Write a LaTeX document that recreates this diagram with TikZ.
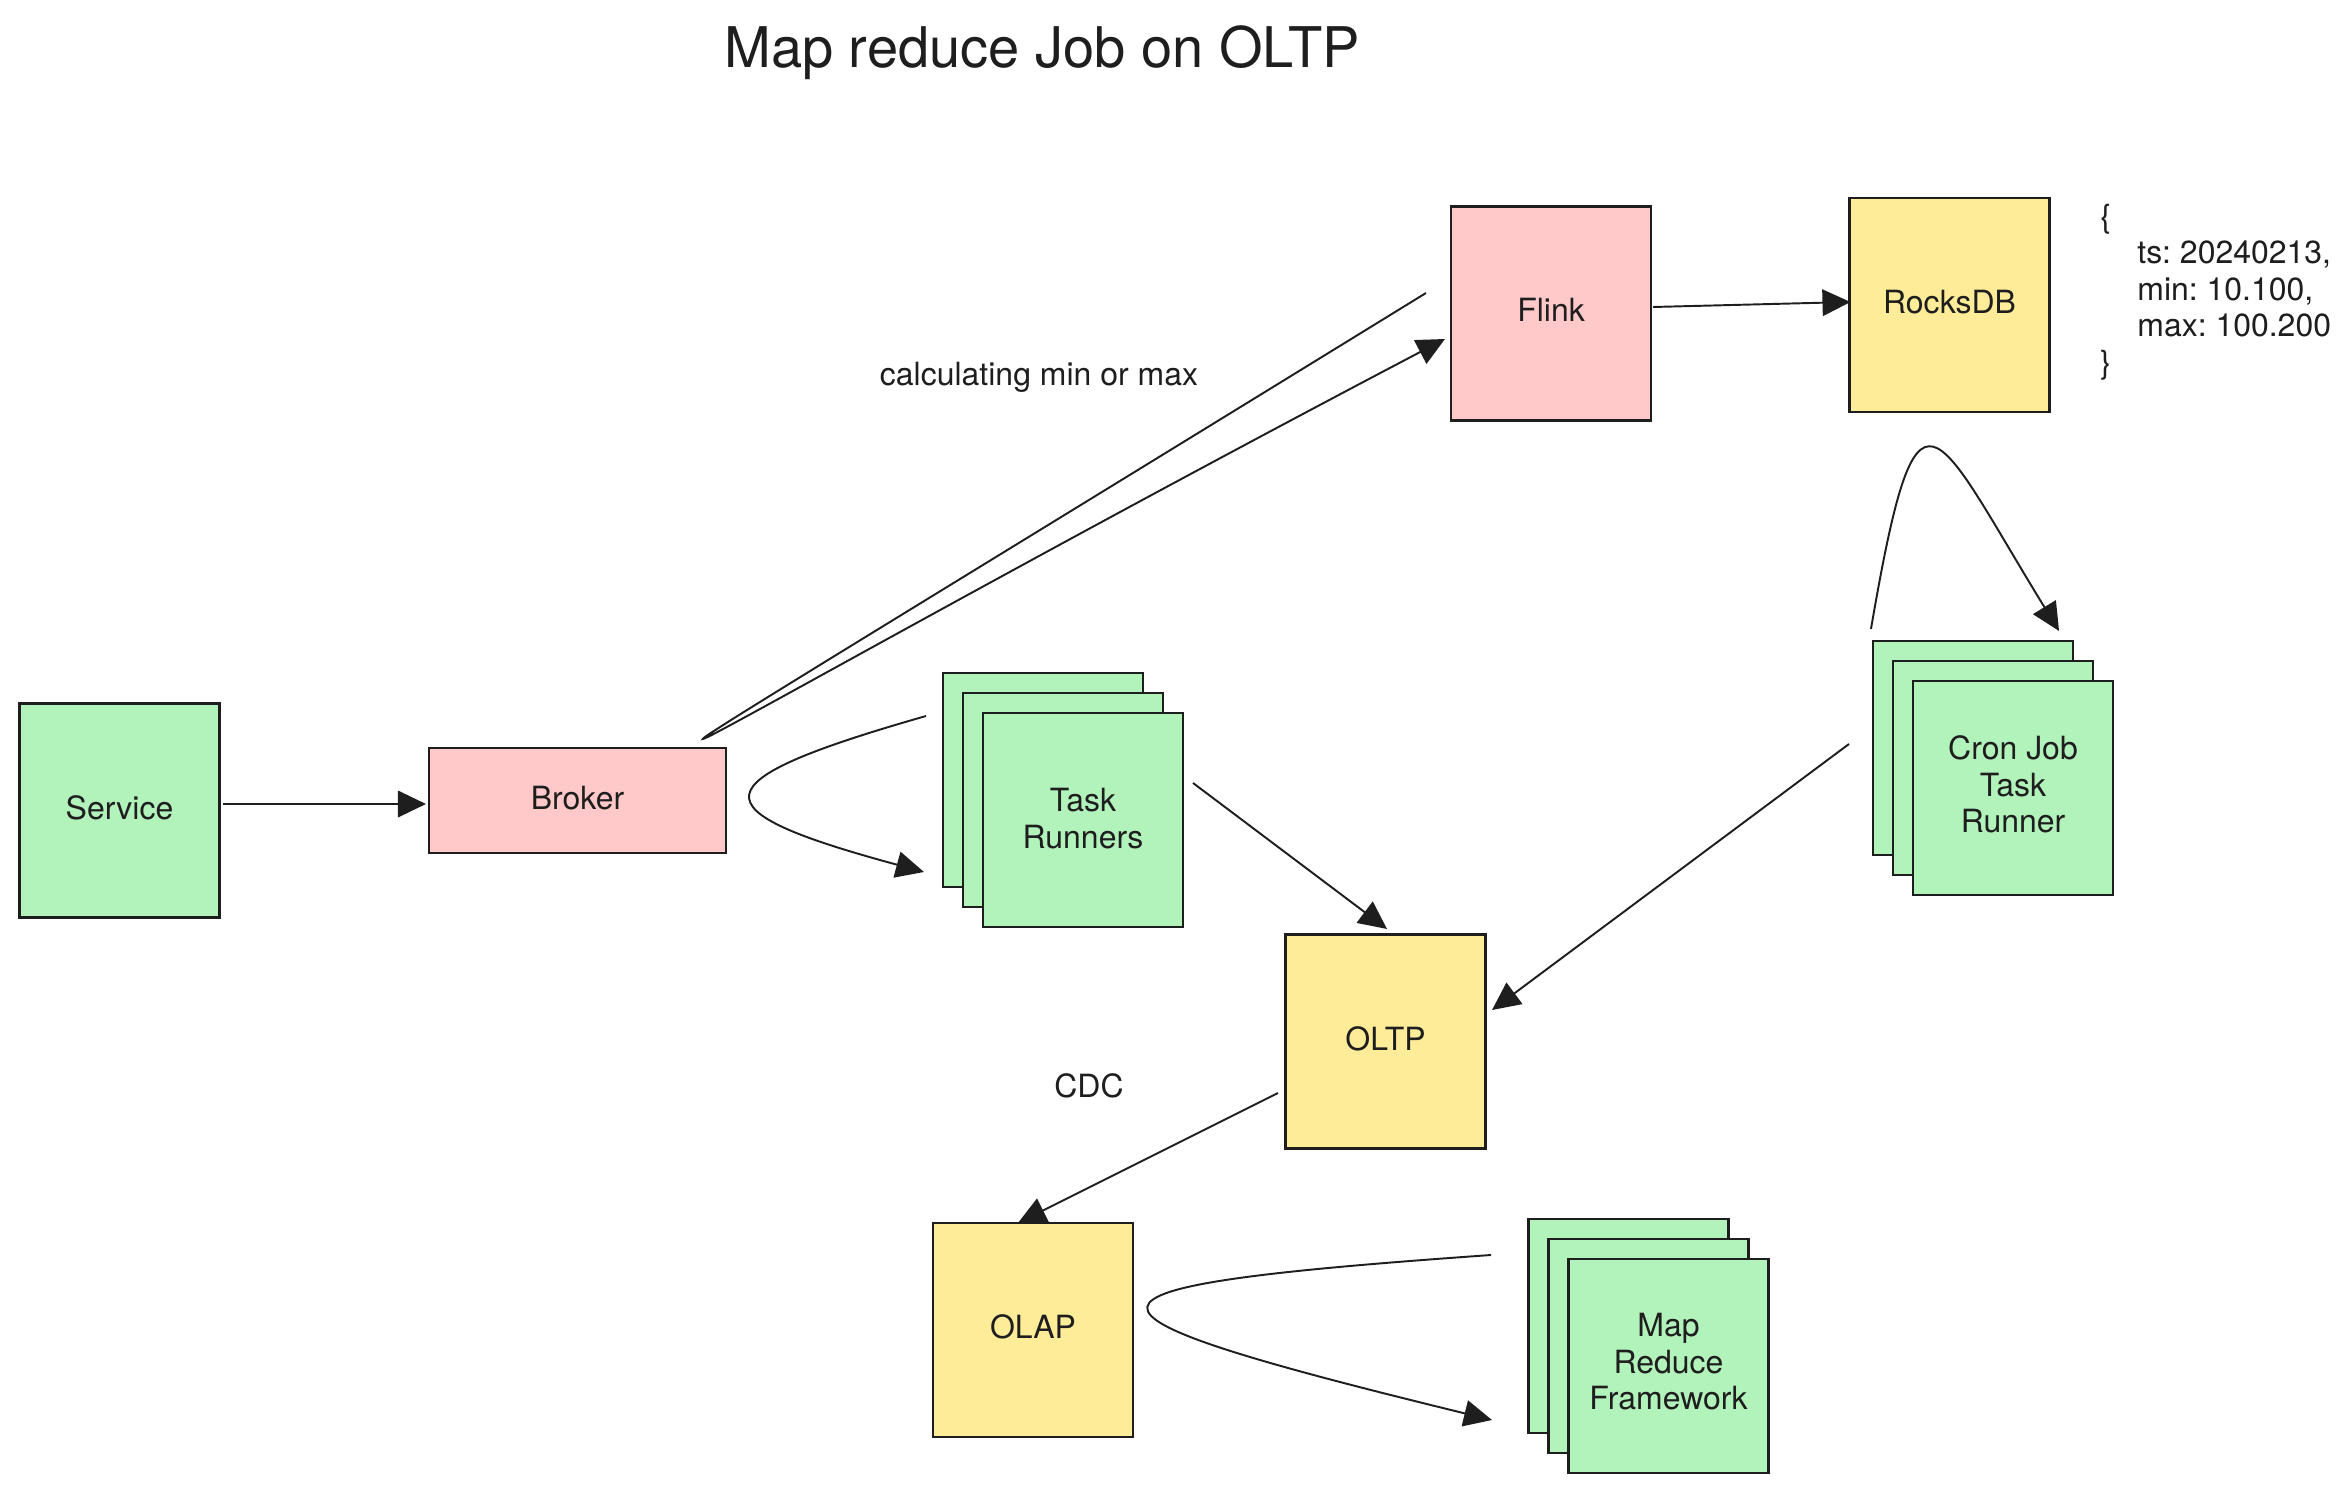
\documentclass[tikz,border=0pt]{standalone}
\usepackage{fontspec}
\setmainfont{TeX Gyre Heros}
\usetikzlibrary{arrows.meta}
\definecolor{ink}{HTML}{1E1E1E}
\definecolor{gfill}{HTML}{B2F2BB}
\definecolor{pfill}{HTML}{FFC9C9}
\definecolor{yfill}{HTML}{FFEC99}
\newcommand\dgfont{\fontsize{18.2}{20.8}\selectfont\frenchspacing}
\newcommand\dgtitlefont{\fontsize{31.9}{36}\selectfont}
\begin{document}
\begin{tikzpicture}[x=0.02cm, y=-0.02cm,
  box/.style={draw=ink, line width=1.2pt, minimum width=4cm, minimum height=4.28cm,
    inner sep=0pt, text=ink, font=\dgfont, text height=0.34cm, text depth=0pt},
  lbl/.style={inner sep=0pt, text=ink, font=\dgfont},
  conn/.style={draw=ink, line width=1.1pt, -{Triangle[length=0.56cm, width=0.53cm]}}]
\useasboundingbox (0,0) rectangle (2350,1493);
\fill[white] (0,0) rectangle (2350,1493);

% title
\node[lbl, font=\dgtitlefont, anchor=base west] (title) at (724,68) {Map reduce Job on OLTP};

% boxes
\node[box, fill=gfill] (svc) at (119.5,810.5) {Service};
\node[box, fill=pfill, minimum width=5.94cm, minimum height=2.1cm] (brk) at (577.5,800.5) {Broker};
\node[box, fill=pfill] (flink) at (1551,313.5) {Flink};
\node[box, fill=yfill] (rocks) at (1949.5,305) {RocksDB};
\node[box, fill=yfill] (oltp) at (1385.5,1041.5) {OLTP};
\node[box, fill=yfill] (olap) at (1033,1330) {OLAP};

% task runners stack
\node[box, fill=gfill] (tr3) at (1043,780) {};
\node[box, fill=gfill] (tr2) at (1063,800) {};
\node[box, fill=gfill] (tr) at (1083,820) {};
\node[lbl, align=center] (trtext) at (1083,818.5) {Task\\Runners};

% cron job stack
\node[box, fill=gfill] (cron3) at (1973,748) {};
\node[box, fill=gfill] (cron2) at (1993,768) {};
\node[box, fill=gfill] (cron) at (2013,788) {};
\node[lbl, align=center] (crontext) at (2013,784.5) {Cron Job\\Task\\ Runner};

% map reduce stack
\node[box, fill=gfill] (mr3) at (1628.5,1326) {};
\node[box, fill=gfill] (mr2) at (1648.5,1346) {};
\node[box, fill=gfill] (mr) at (1668.5,1366) {};
\node[lbl, align=center] (mrtext) at (1668.5,1362) {Map\\Reduce\\Framework};

% labels
\node[lbl] (calc) at (1039,377) {calculating min or max};
\node[lbl] (cdc) at (1089,1086) {CDC};
\node[lbl, anchor=west, align=left] (json) at (2100,292)
  {\{\\\hspace*{0.74cm}ts: 20240213,\\\hspace*{0.74cm}min: 10.100,\\\hspace*{0.74cm}max: 100.200\\\}};

% connectors
\draw[conn] ([shift={(2.5,-6.5)}]svc.east) -- ([shift={(-2,3.5)}]brk.west);

\coordinate (bfs) at ([shift={(-24,-20.5)}]flink.west);
\draw[conn] (bfs) .. controls (275,1001) and (670,746) .. ([shift={(-5,25.5)}]flink.west);

\draw[conn] ([shift={(1,-6.5)}]flink.east) -- ([shift={(2,-3)}]rocks.west);

\coordinate (bts) at (926,716);
\draw[conn] (bts) .. controls (695,782) and (695,810) .. ([shift={(-18,92)}]tr3.west);

\draw[conn] ([shift={(9,-37)}]tr.east) -- ([shift={(1.5,-4.5)}]oltp.north);

\draw[conn] ([shift={(-23,-4)}]cron3.west) -- ([shift={(5.5,-31.5)}]oltp.east);

\draw[conn] ([shift={(-1,-11)}]cron3.north west) .. controls (1918,355) and (1932,424) .. ([shift={(-15,-9)}]cron3.north east);

\draw[conn] ([shift={(-6.5,51.5)}]oltp.west) -- ([shift={(-15,1)}]olap.north);

\coordinate (oms) at (1491,1255);
\draw[conn] (oms) .. controls (1037,1287) and (1037,1309) .. ([shift={(-35.5,94)}]mr3.west);
\end{tikzpicture}
\end{document}
